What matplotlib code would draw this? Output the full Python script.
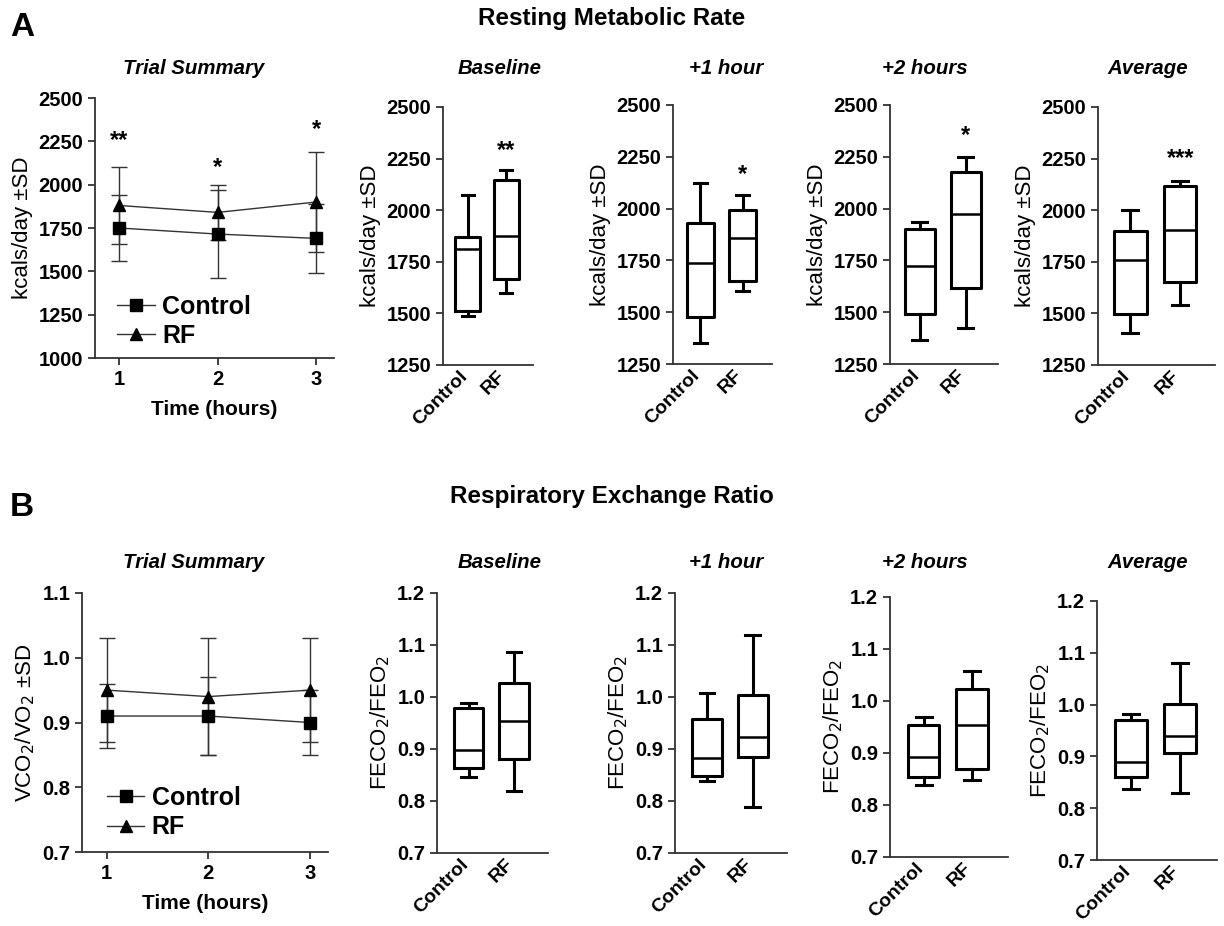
import numpy as np
import matplotlib
matplotlib.use('Agg')
import matplotlib.pyplot as plt
import matplotlib.transforms as mtransforms
from matplotlib.lines import Line2D

plt.rcParams['font.family'] = ['Liberation Sans', 'DejaVu Sans']

W, H = 1224, 926

# trial summary (mean, SD) per hour
hours = [1, 2, 3]
rmr_ctrl_mean = [1750, 1715, 1690]
rmr_ctrl_sd = [190, 255, 200]
rmr_rf_mean = [1880, 1840, 1900]
rmr_rf_sd = [220, 160, 290]
rmr_trial_stars = ['**', '*', '*']
rmr_trial_star_y = [2290, 2135, 2355]

rer_ctrl_mean = [0.91, 0.91, 0.90]
rer_ctrl_sd = [0.05, 0.06, 0.05]
rer_rf_mean = [0.95, 0.94, 0.95]
rer_rf_sd = [0.08, 0.09, 0.08]

# box plots: [whisker low, Q1, median, Q3, whisker high]
periods = ['Baseline', '+1 hour', '+2 hours', 'Average']
groups = ['Control', 'RF']
rmr_control = [[1485, 1510, 1810, 1870, 2075],
               [1350, 1477, 1736, 1929, 2125],
               [1366, 1491, 1721, 1902, 1934],
               [1403, 1497, 1761, 1900, 2000]]
rmr_rf = [[1600, 1665, 1875, 2145, 2195],
          [1604, 1652, 1860, 1992, 2066],
          [1422, 1615, 1974, 2178, 2247],
          [1540, 1650, 1903, 2116, 2142]]
rmr_stars = ['**', '*', '*', '***']
rmr_star_y = [2320, 2195, 2380, 2280]

rer_control = [[0.847, 0.864, 0.898, 0.978, 0.988],
               [0.838, 0.849, 0.883, 0.958, 1.008],
               [0.838, 0.854, 0.893, 0.954, 0.969],
               [0.838, 0.861, 0.890, 0.970, 0.981]]
rer_rf = [[0.820, 0.880, 0.953, 1.027, 1.087],
          [0.788, 0.885, 0.923, 1.003, 1.119],
          [0.848, 0.870, 0.954, 1.023, 1.058],
          [0.829, 0.907, 0.939, 1.001, 1.080]]

fig = plt.figure(figsize=(W / 100, H / 100), dpi=100)


def px_axes(l, r, t, b):
    return fig.add_axes([l / W, 1 - b / H, (r - l) / W, (b - t) / H])


def style(ax):
    for s in ['top', 'right']:
        ax.spines[s].set_visible(False)
    for s in ['left', 'bottom']:
        ax.spines[s].set_linewidth(1.3)
        ax.spines[s].set_color('#333333')
    ax.tick_params(axis='both', direction='out', width=1.3, length=5,
                   labelsize=14.5, colors='#333333', labelcolor='black')
    for lab in ax.get_yticklabels() + ax.get_xticklabels():
        lab.set_fontweight('bold')


def star(ax, x, y, s):
    ax.annotate(s, (x, y), xytext=(0, -9), textcoords='offset points',
                ha='center', va='baseline', fontsize=17, fontweight='bold')


def trial(ax, cm, cs, rm, rs, ylim, yticks, fmt, ylabel, legend_anchor):
    ax.errorbar(hours, cm, yerr=cs, color='#333333', lw=1, capsize=6,
                capthick=1, marker='s', ms=9, mfc='black', mec='black')
    ax.errorbar(hours, rm, yerr=rs, color='#333333', lw=1, capsize=6,
                capthick=1, marker='^', ms=8, mfc='black', mec='black')
    ax.set_xlim(0.756, 3.18)
    ax.set_ylim(*ylim)
    ax.set_xticks(hours)
    ax.set_yticks(yticks)
    ax.set_yticklabels([fmt.format(v) for v in yticks])
    ax.set_ylabel(ylabel, fontsize=16)
    ax.set_xlabel('Time (hours)', fontsize=15, fontweight='bold', labelpad=8)
    style(ax)
    handles = [Line2D([], [], color='#333333', lw=1, marker='s', ms=9, mfc='black', mec='black'),
               Line2D([], [], color='#333333', lw=1, marker='^', ms=8, mfc='black', mec='black')]
    ax.legend(handles, groups, loc='lower left', bbox_to_anchor=legend_anchor,
              frameon=False, borderpad=0, handlelength=1.5, handletextpad=0.3,
              labelspacing=0.22, prop={'size': 18, 'weight': 'bold'})


def boxes(ax, ctrl, rf, ylim, yticks, fmt, ylabel, xlim):
    stats = []
    for g, v in zip(groups, [ctrl, rf]):
        stats.append(dict(label=g, whislo=v[0], q1=v[1], med=v[2], q3=v[3], whishi=v[4]))
    lp = dict(color='black', linewidth=2.2)
    ax.bxp(stats, positions=[1, 2], widths=0.65, showfliers=False,
           boxprops=lp, whiskerprops=lp, capprops=lp, medianprops=dict(color='black', linewidth=1.8))
    ax.set_xlim(*xlim)
    ax.set_ylim(*ylim)
    ax.set_yticks(yticks)
    ax.set_yticklabels([fmt.format(v) for v in yticks])
    ax.set_xticks([1, 2])
    ax.set_xticklabels(groups, rotation=45, ha='right', rotation_mode='anchor')
    ax.set_ylabel(ylabel, fontsize=16)
    style(ax)
    ax.tick_params(axis='x', length=0, pad=2, labelsize=14)
    shift = mtransforms.ScaledTranslation(-9 / 100, 0, fig.dpi_scale_trans)
    for lab in ax.get_xticklabels():
        lab.set_transform(lab.get_transform() + shift)


# ---- panel A ----
axA = px_axes(95, 334, 98, 358)
trial(axA, rmr_ctrl_mean, rmr_ctrl_sd, rmr_rf_mean, rmr_rf_sd, (1000, 2500),
      np.arange(1000, 2501, 250), '{:.0f}', 'kcals/day \u00b1SD', (0.04, -0.01))
for x, s, y in zip(hours, rmr_trial_stars, rmr_trial_star_y):
    star(axA, x, y, s)

a_pos = [(443, 533, 107, 365), (673, 772, 105, 364), (890, 998, 105, 364), (1098, 1215, 107, 365)]
for i, p in enumerate(a_pos):
    ax = px_axes(*p)
    boxes(ax, rmr_control[i], rmr_rf[i], (1250, 2500), np.arange(1250, 2501, 250),
          '{:.0f}', 'kcals/day \u00b1SD', (0.35, 2.7))
    star(ax, 2, rmr_star_y[i], rmr_stars[i])

# ---- panel B ----
axB = px_axes(82, 328, 593, 852)
trial(axB, rer_ctrl_mean, rer_ctrl_sd, rer_rf_mean, rer_rf_sd, (0.7, 1.1),
      np.round(np.arange(0.7, 1.101, 0.1), 1), '{:.1f}', 'VCO$_2$/VO$_2$ \u00b1SD', (0.05, 0.0))

b_pos = [(437, 548, 593, 853), (675, 787, 593, 853), (890, 1008, 597, 857), (1097, 1217, 601, 860)]
for i, p in enumerate(b_pos):
    ax = px_axes(*p)
    boxes(ax, rer_control[i], rer_rf[i], (0.7, 1.2), np.round(np.arange(0.7, 1.201, 0.1), 1),
          '{:.1f}', 'FECO$_2$/FEO$_2$', (0.3, 2.75))

# ---- titles ----
sub_x = [194, 500, 726, 925, 1148]
sub_names = ['Trial Summary'] + periods
for x, name in zip(sub_x, sub_names):
    fig.text(x / W, 1 - 68 / H, name, ha='center', va='center', fontsize=14.7,
             fontweight='bold', style='italic')
    fig.text(x / W, 1 - 562 / H, name, ha='center', va='center', fontsize=14.7,
             fontweight='bold', style='italic')

fig.text(612 / W, 1 - 18 / H, 'Resting Metabolic Rate', ha='center', va='center',
         fontsize=17.5, fontweight='bold')
fig.text(612 / W, 1 - 496 / H, 'Respiratory Exchange Ratio', ha='center', va='center',
         fontsize=17.5, fontweight='bold')
fig.text(22 / W, 1 - 28 / H, 'A', ha='center', va='center', fontsize=24, fontweight='bold')
fig.text(22 / W, 1 - 507 / H, 'B', ha='center', va='center', fontsize=24, fontweight='bold')

fig.savefig('out.png', dpi=100)
